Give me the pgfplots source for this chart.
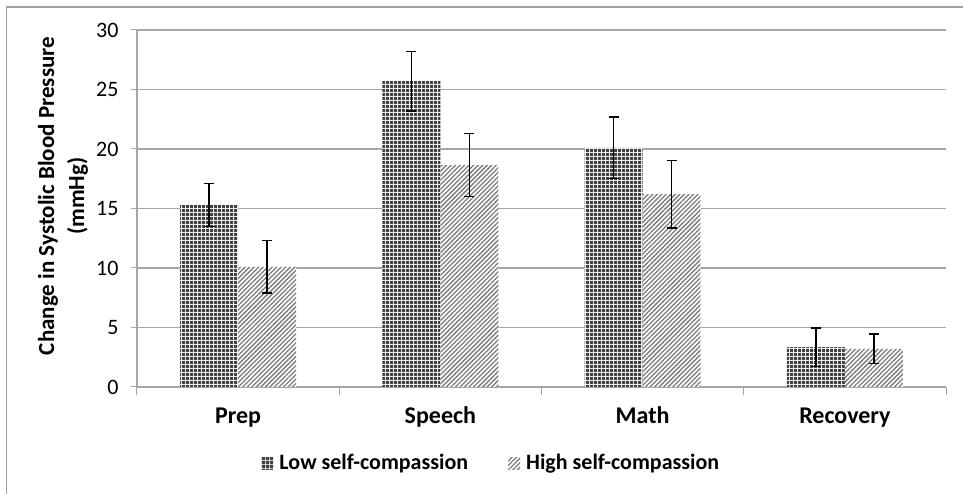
\documentclass[border=0pt]{standalone}
\usepackage{fontspec}
\setmainfont{Carlito}
\usepackage{pgfplots}
\usepackage{pgfplotstable}
\pgfplotsset{compat=1.18}
\usetikzlibrary{patterns.meta}
\definecolor{gridc}{HTML}{A6A6A6}
\definecolor{framec}{HTML}{A0A0A0}
\definecolor{lowc}{HTML}{404040}
\definecolor{highc}{HTML}{7A7A7A}
\pgfplotstableread{
x y e
0 15.3 1.8
1 25.7 2.5
2 20.1 2.6
3 3.35 1.6
}\lowdata
\pgfplotstableread{
x y e
0 10.1 2.2
1 18.65 2.65
2 16.2 2.85
3 3.2 1.25
}\highdata
\begin{document}
\begin{tikzpicture}
\fontsize{22}{26}\selectfont
\useasboundingbox (-137pt,-107pt) rectangle (826pt,387pt);
\draw[framec, line width=1.5pt] (-130.5pt,-107pt) -- (-130.5pt,380pt) -- (826pt,380pt);
\begin{axis}[
  at={(0pt,0pt)}, anchor=south west,
  width=809pt, height=357pt, scale only axis,
  xmin=-0.5, xmax=3.5, ymin=0, ymax=30,
  ytick={0,5,...,30},
  xtick={0,1,2,3}, xticklabels={Prep,Speech,Math,Recovery},
  minor xtick={-0.5,0.5,1.5,2.5,3.5},
  major x tick style={draw=none},
  tick align=outside,
  axis x line*=bottom, axis y line*=left,
  ymajorgrids, grid style={gridc, line width=1.2pt},
  axis line style={gridc, line width=1.2pt},
  tick style={gridc, line width=1pt},
  major tick length=6pt, minor tick length=8pt,
  /pgf/number format/assume math mode=true,
  y tick label style={font=\fontsize{22}{26}\selectfont, xshift=-5pt},
  x tick label style={font=\fontsize{24}{28}\selectfont\bfseries, text height=17pt, text depth=5pt, anchor=north, yshift=-6pt},
  ylabel={Change in Systolic Blood Pressure\\(mmHg)},
  ylabel style={font=\fontsize{23}{30}\selectfont\bfseries, align=center, at={(axis description cs:-0.0916,0.535)}, anchor=center},
  ybar, bar width=58pt,
  legend style={at={(axis description cs:0.438,-0.213)}, anchor=center, draw=none, fill=none,
    legend columns=2, font=\fontsize{22}{26}\selectfont\bfseries,
    /tikz/every even column/.append style={column sep=38pt}},
  legend image code/.code={\path[#1] (0pt,-6pt) rectangle (12pt,6pt); \path (16pt,0pt);},
  error bars/error bar style={black, line width=1.3pt},
  error bars/error mark options={rotate=90, mark size=5pt, black, line width=1.3pt},
]
\addplot[bar shift=-29pt, draw=none, fill=white,
  postaction={pattern={Hatch[angle=0,distance=4pt,line width=2.9pt]}, pattern color=lowc},
  error bars/.cd, y dir=both, y explicit]
  table[x=x, y=y, y error=e] {\lowdata};
\addlegendentry{Low self-compassion}
\addplot[bar shift=29pt, draw=none, fill=white,
  postaction={pattern={Lines[angle=45,distance=3.2pt,line width=1.3pt]}, pattern color=highc},
  error bars/.cd, y dir=both, y explicit]
  table[x=x, y=y, y error=e] {\highdata};
\addlegendentry{High self-compassion}
\end{axis}
\end{tikzpicture}
\end{document}
